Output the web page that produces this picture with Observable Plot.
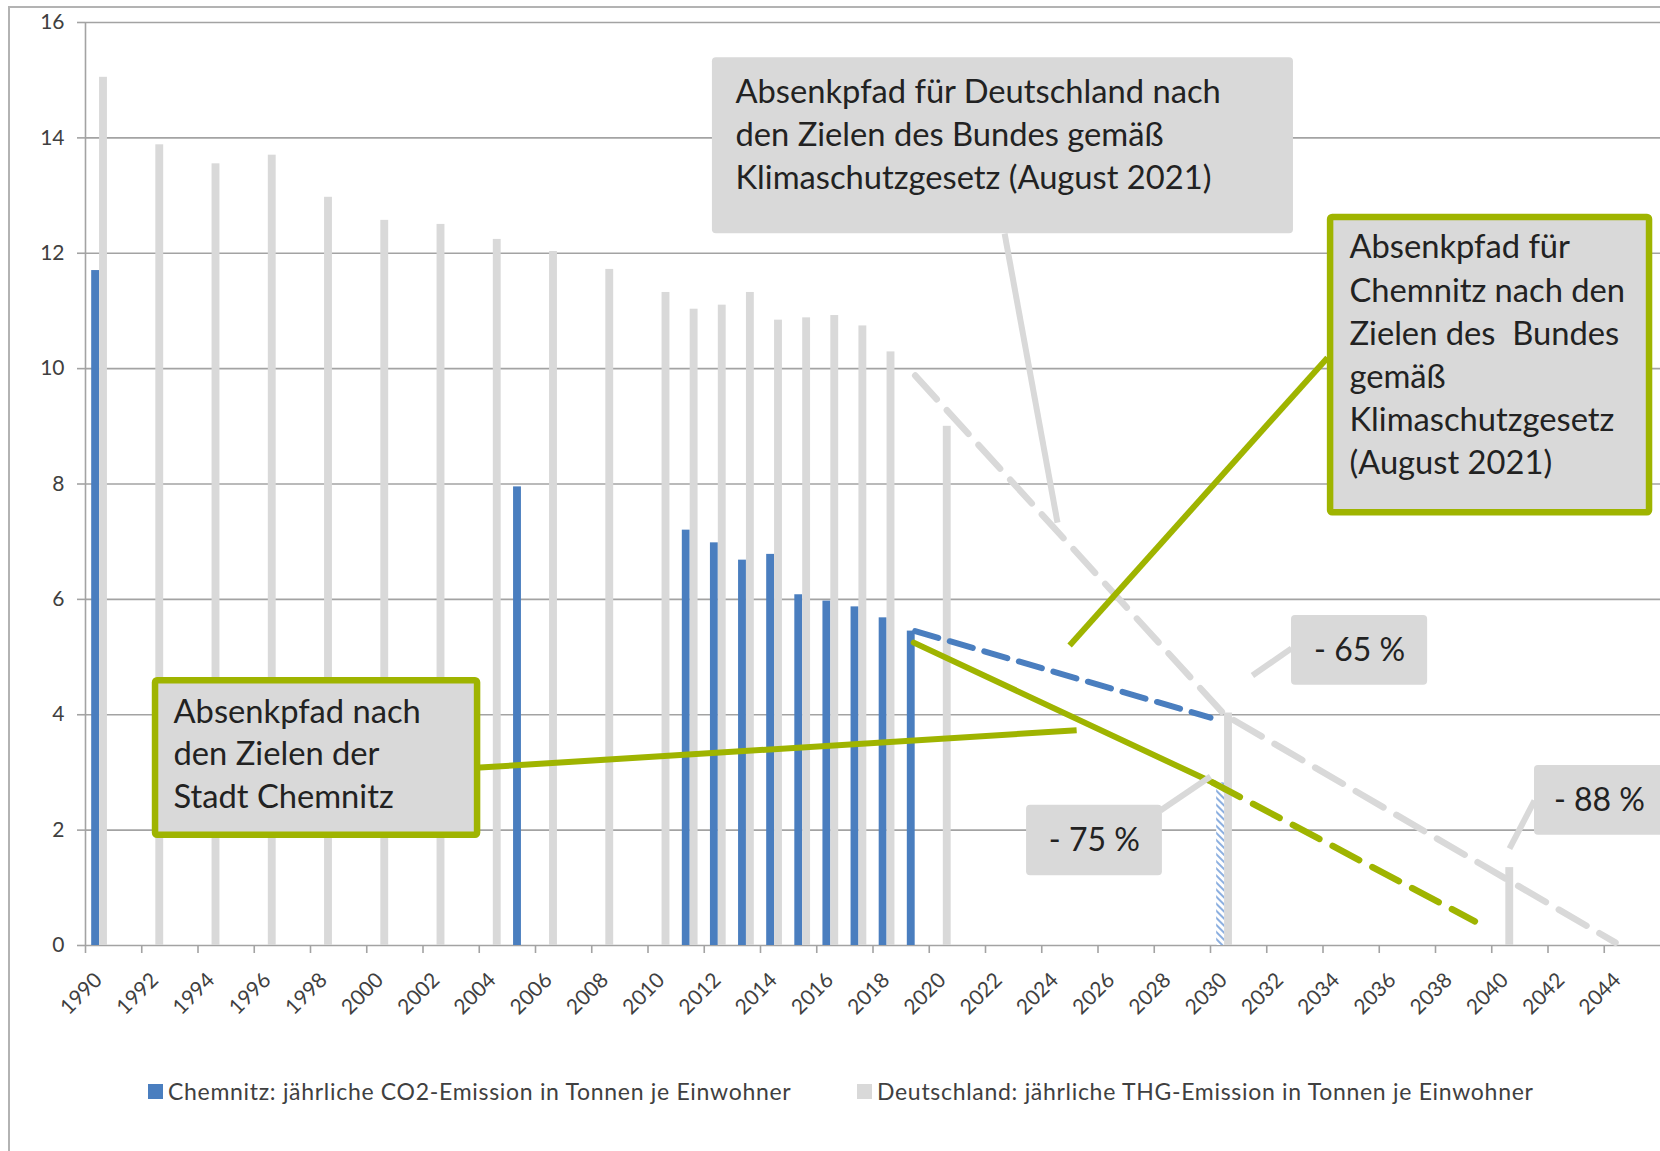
<!DOCTYPE html>
<html>
<head>
<meta charset="utf-8">
<script src="https://cdn.jsdelivr.net/npm/d3@7"></script>
<script src="https://cdn.jsdelivr.net/npm/@observablehq/plot@0.6"></script>
<style>
  html, body { margin: 0; padding: 0; background: #fff; }
  #wrap { position: relative; width: 1660px; height: 1151px; overflow: hidden; font-family: Lato, "Open Sans", sans-serif; }
  #frameTop { position: absolute; left: 8px; top: 6px; width: 1652px; height: 2px; background: #b3b3b3; }
  #frameLeft { position: absolute; left: 8px; top: 6px; width: 2px; height: 1145px; background: #b3b3b3; }
  #chart { position: absolute; left: 0; top: 0; }
  .leg { position: absolute; top: 1077px; display: flex; align-items: center; font-size: 23px; letter-spacing: 0.7px; color: #404040; white-space: nowrap; }
  .sw { width: 15px; height: 15px; margin-right: 5px; }
</style>
</head>
<body>
<svg width="0" height="0" style="position:absolute">
  <defs>
    <pattern id="hatch" patternUnits="userSpaceOnUse" width="5" height="5" patternTransform="rotate(-45)">
      <rect width="5" height="5" fill="#ffffff"></rect>
      <line x1="1" y1="0" x2="1" y2="5" stroke="#6f9bd8" stroke-width="1.6"></line>
    </pattern>
  </defs>
</svg>
<div id="wrap">
  <div id="frameTop"></div>
  <div id="frameLeft"></div>
  <div id="chart"></div>
  <div class="leg" style="left:148px"><div class="sw" style="background:#4a7ebf"></div><span>Chemnitz: jährliche CO2-Emission in Tonnen je Einwohner</span></div>
  <div class="leg" style="left:857px"><div class="sw" style="background:#d9d9d9"></div><span>Deutschland: jährliche THG-Emission in Tonnen je Einwohner</span></div>
</div>
<script>
// ---- Data ----
const yTicks = [0, 2, 4, 6, 8, 10, 12, 14, 16];
const xTickYears = [1990, 1992, 1994, 1996, 1998, 2000, 2002, 2004, 2006, 2008, 2010, 2012, 2014, 2016,
  2018, 2020, 2022, 2024, 2026, 2028, 2030, 2032, 2034, 2036, 2038, 2040, 2042, 2044];

const chemnitzYears = [1990, 2005, 2011, 2012, 2013, 2014, 2015, 2016, 2017, 2018, 2019];
const chemnitzValues = [11.7, 7.95, 7.2, 6.98, 6.68, 6.78, 6.08, 5.97, 5.87, 5.68, 5.45];

const germanyYears = [1990, 1992, 1994, 1996, 1998, 2000, 2002, 2004, 2006, 2008, 2010, 2011, 2012, 2013,
  2014, 2015, 2016, 2017, 2018, 2020, 2030, 2040];
const germanyValues = [15.05, 13.88, 13.55, 13.7, 12.97, 12.57, 12.5, 12.24, 12.03, 11.72, 11.32, 11.03, 11.1, 11.32,
  10.84, 10.88, 10.92, 10.74, 10.29, 9.0, 4.03, 1.35];

const chemnitzTargetYears = [2030];
const chemnitzTargetValues = [2.82];

// reduction paths (x = position on the year axis, y = t per inhabitant)
const germanyPathX = [2019.5, 2030.5, 2044.4];
const germanyPathY = [9.88, 4.0, 0.05];
const chemnitzBundPathX = [2019.5, 2030.0];
const chemnitzBundPathY = [5.45, 3.95];
const chemnitzCityPathX = [2019.45, 2030.1, 2039.4];
const chemnitzCityPathY = [5.25, 2.82, 0.42];

// callout texts
const calloutDE = "Absenkpfad für Deutschland nach\nden Zielen des Bundes gemäß\nKlimaschutzgesetz (August 2021)";
const calloutCity = "Absenkpfad nach\nden Zielen der\nStadt Chemnitz";
const calloutBund = "Absenkpfad für\nChemnitz nach den\nZielen des  Bundes\ngemäß\nKlimaschutzgesetz\n(August 2021)";
const percentLabels = ["- 65 %", "- 75 %", "- 88 %"];

// callout anchors in axis units (year position, value)
const boxDE = {x1: 2012.29, x2: 2032.95, y1: 12.34, y2: 15.39, tx: 2013.11, ty: 14.1};
const boxCity = {x1: 1992.49, x2: 2003.94, y1: 1.91, y2: 4.59, tx: 1993.13, ty: 3.36};
const boxBund = {x1: 2034.27, x2: 2045.61, y1: 7.50, y2: 12.62, tx: 2034.94, ty: 10.28};
const percentBoxes = [
  {x1: 2032.88, x2: 2037.72, y1: 4.51, y2: 5.72, tx: 2035.30, ty: 5.11},
  {x1: 2023.46, x2: 2028.29, y1: 1.21, y2: 2.43, tx: 2025.87, ty: 1.82},
  {x1: 2041.52, x2: 2046.18, y1: 1.91, y2: 3.12, tx: 2043.83, ty: 2.51}
];
const greyPointers = [
  {x1: 2022.68, y1: 12.34, x2: 2024.56, y2: 7.33},
  {x1: 2032.88, y1: 5.15, x2: 2031.49, y2: 4.68},
  {x1: 2028.22, y1: 2.34, x2: 2030.0, y2: 2.93},
  {x1: 2041.52, y1: 2.51, x2: 2040.63, y2: 1.68}
];
const greenPointers = [
  {x1: 2003.87, y1: 3.08, x2: 2025.24, y2: 3.73},
  {x1: 2034.16, y1: 10.19, x2: 2024.99, y2: 5.20}
];

// ---- build tables ----
const chemnitz = chemnitzYears.map((year, i) => ({year, value: chemnitzValues[i]}));
const germany = germanyYears.map((year, i) => ({year, value: germanyValues[i]}));
const chemnitzTarget = chemnitzTargetYears.map((year, i) => ({year, value: chemnitzTargetValues[i]}));
const germanyPath = germanyPathX.map((x, i) => ({x, y: germanyPathY[i]}));
const bundPath = chemnitzBundPathX.map((x, i) => ({x, y: chemnitzBundPathY[i]}));
const cityPath = chemnitzCityPathX.map((x, i) => ({x, y: chemnitzCityPathY[i]}));
const citySolid = cityPath.slice(0, 2);
const cityDashed = cityPath.slice(1);
const percents = percentBoxes.map((b, i) => ({...b, label: percentLabels[i]}));

const BLUE = "#4a7ebf", GREY = "#d9d9d9", GREEN = "#9fb400", GRID = "#a3a3a3", TXT = "#222222";
const bw = 0.28; // bar width in slot units
const CALLOUT_FS = 32.7, CALLOUT_LH = 1.31;

const chart = Plot.plot({
  width: 1660,
  height: 1030,
  marginLeft: 85,
  marginRight: 0,
  marginTop: 22,
  marginBottom: 85,
  x: {domain: [1990, 2046], axis: null},
  y: {domain: [0, 16], axis: null},
  style: {fontFamily: "Lato, 'Open Sans', sans-serif", background: "transparent"},
  marks: [
    Plot.ruleY(yTicks, {stroke: GRID, strokeWidth: 1.6}),
    Plot.ruleX([1990], {stroke: GRID, strokeWidth: 1.6}),
    Plot.axisY({ticks: yTicks, tickSize: 8, tickPadding: 13, fontSize: 21, stroke: GRID, fill: "#404040", strokeWidth: 1.6}),
    Plot.axisX({ticks: xTickYears, tickSize: 8, tickFormat: () => "", stroke: GRID, strokeWidth: 1.6}),
    Plot.text(xTickYears, {x: d => d + 0.5, y: 0, text: d => String(d), rotate: -45, textAnchor: "end",
      lineAnchor: "middle", dy: 31, dx: -1, fontSize: 21, fill: "#404040"}),
    // bars
    Plot.rect(chemnitz, {x1: d => d.year + 0.5 - bw, x2: d => d.year + 0.5, y1: 0, y2: "value", fill: BLUE}),
    Plot.rect(germany, {x1: d => d.year + 0.5, x2: d => d.year + 0.5 + bw, y1: 0, y2: "value", fill: GREY}),
    Plot.rect(chemnitzTarget, {x1: d => d.year + 0.5 - bw, x2: d => d.year + 0.5, y1: 0, y2: "value", fill: "url(#hatch)"}),
    // paths
    Plot.line(germanyPath, {x: "x", y: "y", stroke: GREY, strokeWidth: 6.5, strokeDasharray: "32,15"}),
    Plot.line(bundPath, {x: "x", y: "y", stroke: BLUE, strokeWidth: 6, strokeDasharray: "24,12"}),
    Plot.line(citySolid, {x: "x", y: "y", stroke: GREEN, strokeWidth: 6}),
    Plot.line(cityDashed, {x: "x", y: "y", stroke: GREEN, strokeWidth: 6.5, strokeDasharray: "30,15"}),
    // pointers
    Plot.link(greyPointers, {x1: "x1", y1: "y1", x2: "x2", y2: "y2", stroke: GREY, strokeWidth: 6}),
    Plot.link(greenPointers, {x1: "x1", y1: "y1", x2: "x2", y2: "y2", stroke: GREEN, strokeWidth: 6}),
    // boxes
    Plot.rect([boxDE], {x1: "x1", x2: "x2", y1: "y1", y2: "y2", fill: GREY, rx: 4}),
    Plot.rect([boxCity, boxBund], {x1: "x1", x2: "x2", y1: "y1", y2: "y2", fill: GREY, stroke: GREEN, strokeWidth: 6.5, rx: 2}),
    Plot.rect(percents, {x1: "x1", x2: "x2", y1: "y1", y2: "y2", fill: GREY, rx: 4}),
    // texts
    Plot.text([boxDE], {x: "tx", y: "ty", text: () => calloutDE, textAnchor: "start", lineAnchor: "middle", lineHeight: CALLOUT_LH, fontSize: CALLOUT_FS, fill: TXT}),
    Plot.text([boxCity], {x: "tx", y: "ty", text: () => calloutCity, textAnchor: "start", lineAnchor: "middle", lineHeight: CALLOUT_LH, fontSize: CALLOUT_FS, fill: TXT}),
    Plot.text([boxBund], {x: "tx", y: "ty", text: () => calloutBund, textAnchor: "start", lineAnchor: "middle", lineHeight: 1.32, fontSize: CALLOUT_FS, fill: TXT}),
    Plot.text(percents, {x: "tx", y: "ty", text: "label", textAnchor: "middle", lineAnchor: "middle", fontSize: 32, fill: TXT})
  ]
});
document.getElementById("chart").appendChild(chart);
</script>
</body>
</html>
